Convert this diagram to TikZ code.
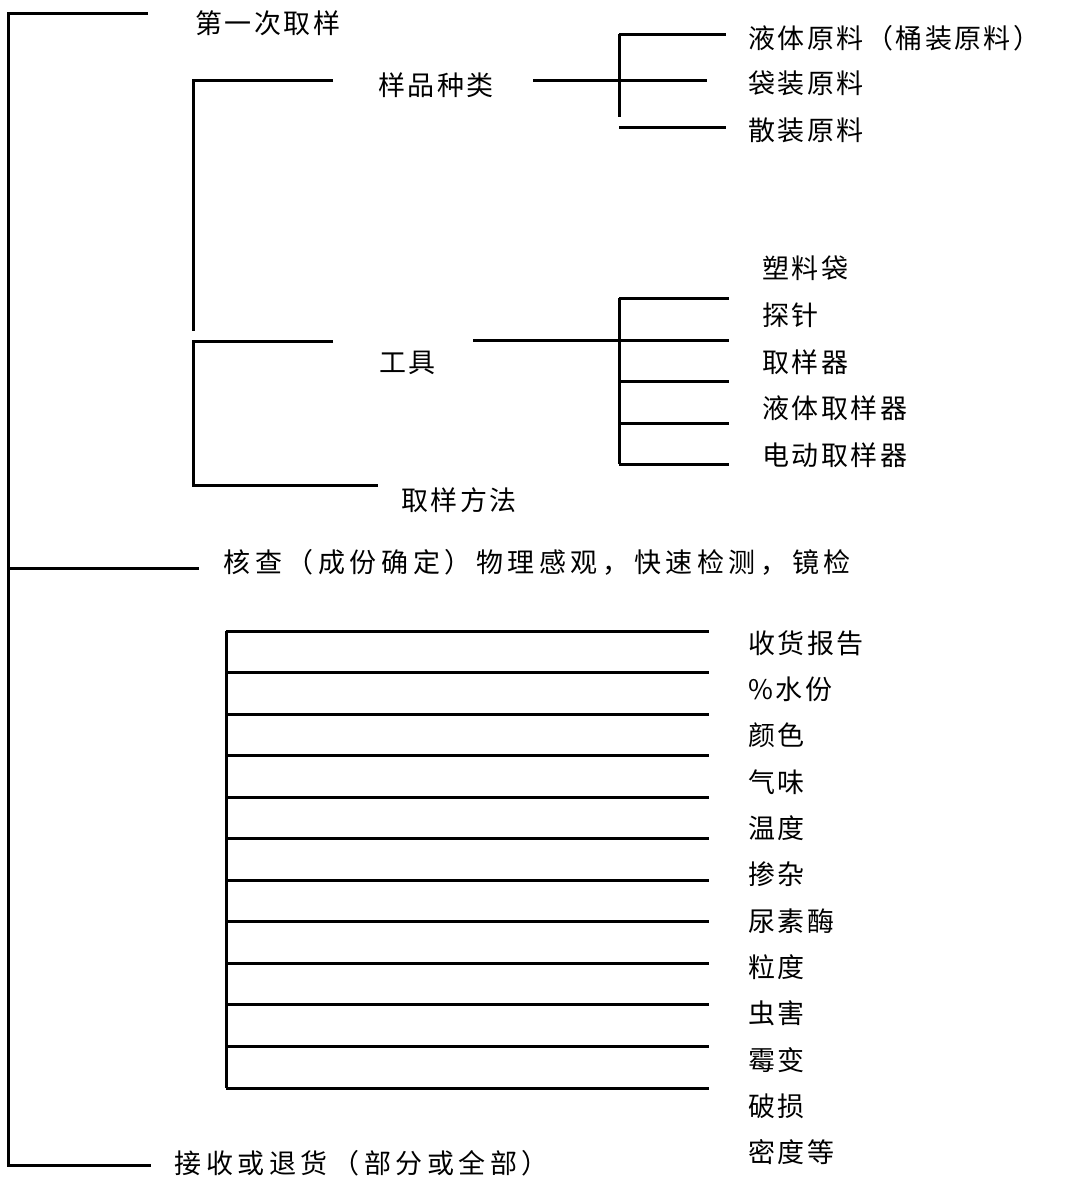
\documentclass[tikz,border=0pt]{standalone}
\usepackage{fontspec}
\newfontfamily\cjk[LetterSpace=9]{Noto Sans CJK SC}
\newfontfamily\cjkw[LetterSpace=17]{Noto Sans CJK SC}
\begin{document}
\begin{tikzpicture}[x=1pt,y=-1pt,line width=3pt,
  lbl/.style={anchor=west,inner sep=0pt,font=\cjk\fontsize{27}{27}\selectfont},
  lblw/.style={anchor=west,inner sep=0pt,font=\cjkw\fontsize{27}{27}\selectfont}]
\useasboundingbox (0,0) rectangle (1077,1183);
% texts
\node[lbl] (t1) at (194,23) {第一次取样};
\node[lbl] (kind) at (377,85) {样品种类};
\node[lbl] (tool) at (378,363) {工具};
\node[lbl] (meth) at (400,500) {取样方法};
\node[lbl] (k1) at (747,38) {液体原料（桶装原料）};
\node[lbl] (k2) at (747,83) {袋装原料};
\node[lbl] (k3) at (747,130) {散装原料};
\node[lbl] (o1) at (761,268) {塑料袋};
\node[lbl] (o2) at (761,315) {探针};
\node[lbl] (o3) at (761,362) {取样器};
\node[lbl] (o4) at (761,408) {液体取样器};
\node[lbl] (o5) at (761,455) {电动取样器};
\node[lblw] (chk) at (222,562) {核查（成份确定）物理感观，快速检测，镜检};
\node[lblw] (acc) at (173,1163) {接收或退货（部分或全部）};
\foreach \t [count=\i from 0] in {收货报告,\%水份,颜色,气味,温度,掺杂,尿素酶,粒度,虫害,霉变,破损,密度等}
  \node[lbl] (r\i) at (747,{643+46.3*\i}) {\t};
% main spine
\coordinate (mTop) at (148,13);
\coordinate (mA) at (8,13);
\coordinate (mB) at (8,1165);
\coordinate (mEnd) at (151,1165);
\coordinate (mChk) at (199,568);
\draw (mTop) -- (mA) -- (mB) -- (mEnd);
\draw (mA |- mChk) -- (mChk);
% first sampling brackets
\coordinate (b1a) at (333,80);
\coordinate (b1b) at (193,80);
\coordinate (b1c) at (193,331);
\draw (b1a) -- (b1b) -- (b1c);
\coordinate (b2a) at (333,341);
\coordinate (b2b) at (193,341);
\coordinate (b2c) at (193,485);
\coordinate (b2d) at (378,485);
\draw (b2a) -- (b2b) -- (b2c) -- (b2d);
% sample kinds
\coordinate (kL) at (533,80);
\coordinate (kR) at (707,80);
\draw (kL) -- (kR);
\coordinate (kv1) at (619,34);
\coordinate (kv2) at (619,117);
\draw (kv1) -- (kv2);
\coordinate (kh1) at (726,34);
\draw (kv1) -- (kh1);
\coordinate (kh3a) at (619,127);
\coordinate (kh3b) at (726,127);
\draw (kh3a) -- (kh3b);
% tools
\coordinate (tL) at (473,340);
\coordinate (tv1) at (619,298);
\coordinate (tv2) at (619,464);
\draw (tL) -- (tv1 |- tL);
\draw (tv1) -- (tv2);
\foreach \yy in {298,340,381,423,464}
  \draw (619,\yy) -- (729,\yy);
% checklist grid
\coordinate (gTop) at (226,631);
\coordinate (gBot) at (226,1088);
\draw (gTop) -- (gBot);
\foreach \i in {0,...,11}
  \draw (226,{631+41.55*\i}) -- (709,{631+41.55*\i});
\end{tikzpicture}
\end{document}
